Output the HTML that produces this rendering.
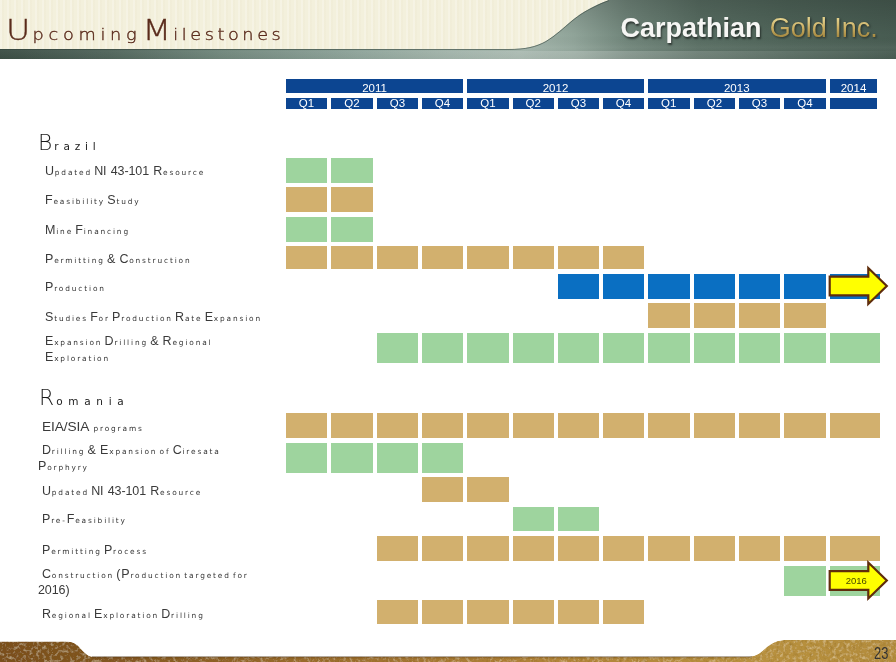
<!DOCTYPE html>
<html lang="en"><head><meta charset="utf-8"><title>Upcoming Milestones</title>
<style>
html,body{margin:0;padding:0;}
body{width:896px;height:662px;position:relative;overflow:hidden;background:#fff;font-family:"Liberation Sans",sans-serif;}
.abs{position:absolute;}
#banner{left:0;top:0;width:896px;height:49px;background:#f3f0dc;background-image:repeating-linear-gradient(90deg,rgba(255,255,255,.22) 0 2px,rgba(225,215,185,.10) 2px 4px,rgba(255,255,255,0) 4px 7px);}
#title{left:6px;top:13px;-webkit-text-stroke:.35px #5a2b1c;transform:scaleX(1.15);transform-origin:0 0;white-space:nowrap;color:#5a2b1c;font-family:"DejaVu Sans","Liberation Sans",sans-serif;font-weight:200;font-size:15.4px;letter-spacing:4.6px;line-height:34px;height:34px;word-spacing:-8.6px;}
#title .w::first-letter{font-size:28.8px;letter-spacing:2px;-webkit-text-stroke:.1px #5a2b1c;}
#title .w{display:inline-block;}
#logo{left:620.4px;top:11.5px;white-space:nowrap;font-size:27px;line-height:32px;color:#f6f6f4;}
#logo b{font-weight:bold;text-shadow:1px 2px 2px rgba(0,0,0,.55);}
#logo i{font-style:normal;margin-left:.7px;color:transparent;background:linear-gradient(#e2cf8a 22%,#c9ad62 50%,#a58840 80%);-webkit-background-clip:text;background-clip:text;filter:drop-shadow(1px 1px 1px rgba(0,0,0,.5));}
.cell{position:absolute;}
.hd{position:absolute;background:#0c4591;color:#fff;font-size:11.5px;text-align:center;}
.yr{top:79px;height:14px;line-height:19px;}
.q{top:98px;height:11px;line-height:10.4px;}
.sec{position:absolute;color:#1a1a1a;font-family:"DejaVu Sans","Liberation Sans",sans-serif;font-size:10.5px;letter-spacing:5px;white-space:nowrap;}
.sec .w{display:inline-block;}
.sec .w::first-letter{font-size:21.8px;font-weight:200;letter-spacing:2px;-webkit-text-stroke:.25px #1a1a1a;}
.lb{position:absolute;color:#333;font-family:"DejaVu Sans","Liberation Sans",sans-serif;font-size:7.4px;letter-spacing:1.85px;white-space:nowrap;line-height:15.7px;word-spacing:-2px;}
.lb .w{display:inline-block;}
.lb .w::first-letter{font-family:"Liberation Sans",sans-serif;font-size:12.5px;letter-spacing:.8px;color:#3a3a3a;}
.lb .c{font-family:"Liberation Sans",sans-serif;font-size:12.5px;letter-spacing:-.1px;margin-right:2px;color:#3a3a3a;}
.lb .c.big{font-size:13.7px;}
.lb .ind{margin-left:-4px;}
#pg{right:7.5px;top:643.5px;font-size:16.5px;color:#333;transform:scaleX(.78);transform-origin:right center;line-height:18px;}
</style></head><body>

<div id="banner" class="abs"></div>
<svg class="abs" style="left:0;top:0" width="896" height="60" viewBox="0 0 896 60">
<defs>
<linearGradient id="gbar" x1="0" y1="0" x2="896" y2="0" gradientUnits="userSpaceOnUse">
<stop offset="0" stop-color="#3d4f46"/><stop offset=".12" stop-color="#50655b"/><stop offset=".25" stop-color="#70877c"/><stop offset=".4" stop-color="#8da399"/><stop offset=".5" stop-color="#a0b3a9"/><stop offset=".58" stop-color="#a3b5ab"/><stop offset=".64" stop-color="#90a499"/><stop offset=".7" stop-color="#70857a"/><stop offset=".78" stop-color="#586d62"/><stop offset=".88" stop-color="#4e6358"/><stop offset="1" stop-color="#475b51"/>
</linearGradient>
<linearGradient id="gv" x1="0" y1="0" x2="0" y2="1">
<stop offset="0" stop-color="#000" stop-opacity=".15"/><stop offset=".6" stop-color="#000" stop-opacity="0"/><stop offset=".8" stop-color="#fff" stop-opacity=".05"/><stop offset="1" stop-color="#000" stop-opacity=".04"/>
</linearGradient>
<linearGradient id="gband" x1="0" y1="0" x2="896" y2="0" gradientUnits="userSpaceOnUse">
<stop offset="0" stop-color="#fff" stop-opacity="0"/><stop offset=".5" stop-color="#fff" stop-opacity="0.05"/><stop offset=".65" stop-color="#fff" stop-opacity=".2"/><stop offset=".8" stop-color="#fff" stop-opacity=".14"/><stop offset="1" stop-color="#fff" stop-opacity="0.02"/>
</linearGradient>
</defs>
<path d="M0 49 L508 49 C526 49 536 46.5 546 41 C556 35 563 28 572 20.5 C580 14 586 10.5 592 7.5 C599 4 604 1.8 609 0 L896 0 L896 59 L0 59 Z" fill="url(#gbar)"/>
<path d="M0 49 L508 49 C526 49 536 46.5 546 41 C556 35 563 28 572 20.5 C580 14 586 10.5 592 7.5 C599 4 604 1.8 609 0 L896 0 L896 59 L0 59 Z" fill="url(#gv)"/>
<rect x="0" y="51" width="896" height="8" fill="url(#gband)"/>
<path d="M0 49.5 L508 49.5 C526 49.5 536 47 546 41.5 C556 35.5 563 28.5 572 21 C580 14.5 586 11 592 8 C599 4.5 604 2.3 609 0.5" stroke="#2f3f38" stroke-width="1" fill="none" opacity=".55"/>
</svg>
<div id="title" class="abs"><span class="w" style="letter-spacing:4.1px">Upcoming</span> <span class="w" style="letter-spacing:3.1px">Milestones</span></div>
<div id="logo" class="abs"><b>Carpathian</b> <i>Gold Inc.</i></div>
<div class="hd yr" style="left:286px;width:177px">2011</div>
<div class="hd yr" style="left:467px;width:177px">2012</div>
<div class="hd yr" style="left:647.5px;width:178.5px">2013</div>
<div class="hd yr" style="left:830px;width:47px">2014</div>
<div class="hd q" style="left:286px;width:41px">Q1</div>
<div class="hd q" style="left:331px;width:42px">Q2</div>
<div class="hd q" style="left:377px;width:41px">Q3</div>
<div class="hd q" style="left:422px;width:41px">Q4</div>
<div class="hd q" style="left:467px;width:42px">Q1</div>
<div class="hd q" style="left:512.6px;width:41.4px">Q2</div>
<div class="hd q" style="left:558px;width:41px">Q3</div>
<div class="hd q" style="left:603px;width:41px">Q4</div>
<div class="hd q" style="left:647.5px;width:42.5px">Q1</div>
<div class="hd q" style="left:694px;width:41px">Q2</div>
<div class="hd q" style="left:739px;width:41px">Q3</div>
<div class="hd q" style="left:784px;width:42px">Q4</div>
<div class="hd q" style="left:830px;width:47px"></div>
<div class="sec" style="left:38px;top:127.5px;line-height:30px;letter-spacing:4.8px"><span class="w">Brazil</span></div>
<div class="cell" style="left:286px;top:158px;width:41px;height:25px;background:#9ed49e"></div>
<div class="cell" style="left:331px;top:158px;width:42px;height:25px;background:#9ed49e"></div>
<div class="lb" style="left:45px;top:163.8px"><span class="w">Updated</span> <span class="c">NI</span> <span class="c">43-101</span> <span class="w">Resource</span></div>
<div class="cell" style="left:286px;top:187px;width:41px;height:25px;background:#d2b06e"></div>
<div class="cell" style="left:331px;top:187px;width:42px;height:25px;background:#d2b06e"></div>
<div class="lb" style="left:45px;top:192.8px"><span class="w">Feasibility</span> <span class="w">Study</span></div>
<div class="cell" style="left:286px;top:217px;width:41px;height:25px;background:#9ed49e"></div>
<div class="cell" style="left:331px;top:217px;width:42px;height:25px;background:#9ed49e"></div>
<div class="lb" style="left:45px;top:222.8px"><span class="w">Mine</span> <span class="w">Financing</span></div>
<div class="cell" style="left:286px;top:246px;width:41px;height:23px;background:#d2b06e"></div>
<div class="cell" style="left:331px;top:246px;width:42px;height:23px;background:#d2b06e"></div>
<div class="cell" style="left:377px;top:246px;width:41px;height:23px;background:#d2b06e"></div>
<div class="cell" style="left:422px;top:246px;width:41px;height:23px;background:#d2b06e"></div>
<div class="cell" style="left:467px;top:246px;width:42px;height:23px;background:#d2b06e"></div>
<div class="cell" style="left:512.6px;top:246px;width:41.4px;height:23px;background:#d2b06e"></div>
<div class="cell" style="left:558px;top:246px;width:41px;height:23px;background:#d2b06e"></div>
<div class="cell" style="left:603px;top:246px;width:41px;height:23px;background:#d2b06e"></div>
<div class="lb" style="left:45px;top:251.8px"><span class="w">Permitting</span> <span class="c">&amp;</span> <span class="w">Construction</span></div>
<div class="cell" style="left:558px;top:274px;width:41px;height:25px;background:#0a6fc2"></div>
<div class="cell" style="left:603px;top:274px;width:41px;height:25px;background:#0a6fc2"></div>
<div class="cell" style="left:647.5px;top:274px;width:42.5px;height:25px;background:#0a6fc2"></div>
<div class="cell" style="left:694px;top:274px;width:41px;height:25px;background:#0a6fc2"></div>
<div class="cell" style="left:739px;top:274px;width:41px;height:25px;background:#0a6fc2"></div>
<div class="cell" style="left:784px;top:274px;width:42px;height:25px;background:#0a6fc2"></div>
<div class="cell" style="left:830px;top:274px;width:50px;height:25px;background:#0a6fc2"></div>
<div class="lb" style="left:45px;top:279.8px"><span class="w">Production</span></div>
<div class="cell" style="left:647.5px;top:303px;width:42.5px;height:25px;background:#d2b06e"></div>
<div class="cell" style="left:694px;top:303px;width:41px;height:25px;background:#d2b06e"></div>
<div class="cell" style="left:739px;top:303px;width:41px;height:25px;background:#d2b06e"></div>
<div class="cell" style="left:784px;top:303px;width:42px;height:25px;background:#d2b06e"></div>
<div class="lb" style="left:45px;top:309.8px"><span class="w">Studies</span> <span class="w">For</span> <span class="w">Production</span> <span class="w">Rate</span> <span class="w">Expansion</span></div>
<div class="cell" style="left:377px;top:333px;width:41px;height:30px;background:#9ed49e"></div>
<div class="cell" style="left:422px;top:333px;width:41px;height:30px;background:#9ed49e"></div>
<div class="cell" style="left:467px;top:333px;width:42px;height:30px;background:#9ed49e"></div>
<div class="cell" style="left:512.6px;top:333px;width:41.4px;height:30px;background:#9ed49e"></div>
<div class="cell" style="left:558px;top:333px;width:41px;height:30px;background:#9ed49e"></div>
<div class="cell" style="left:603px;top:333px;width:41px;height:30px;background:#9ed49e"></div>
<div class="cell" style="left:647.5px;top:333px;width:42.5px;height:30px;background:#9ed49e"></div>
<div class="cell" style="left:694px;top:333px;width:41px;height:30px;background:#9ed49e"></div>
<div class="cell" style="left:739px;top:333px;width:41px;height:30px;background:#9ed49e"></div>
<div class="cell" style="left:784px;top:333px;width:42px;height:30px;background:#9ed49e"></div>
<div class="cell" style="left:830px;top:333px;width:50px;height:30px;background:#9ed49e"></div>
<div class="lb" style="left:45px;top:333.5px"><span class="w">Expansion</span> <span class="w">Drilling</span> <span class="c">&amp;</span> <span class="w">Regional</span><br><span class="w">Exploration</span></div>
<div class="sec" style="left:39px;top:382.5px;line-height:30px;letter-spacing:5.7px"><span class="w">Romania</span></div>
<div class="cell" style="left:286px;top:413px;width:41px;height:25px;background:#d2b06e"></div>
<div class="cell" style="left:331px;top:413px;width:42px;height:25px;background:#d2b06e"></div>
<div class="cell" style="left:377px;top:413px;width:41px;height:25px;background:#d2b06e"></div>
<div class="cell" style="left:422px;top:413px;width:41px;height:25px;background:#d2b06e"></div>
<div class="cell" style="left:467px;top:413px;width:42px;height:25px;background:#d2b06e"></div>
<div class="cell" style="left:512.6px;top:413px;width:41.4px;height:25px;background:#d2b06e"></div>
<div class="cell" style="left:558px;top:413px;width:41px;height:25px;background:#d2b06e"></div>
<div class="cell" style="left:603px;top:413px;width:41px;height:25px;background:#d2b06e"></div>
<div class="cell" style="left:647.5px;top:413px;width:42.5px;height:25px;background:#d2b06e"></div>
<div class="cell" style="left:694px;top:413px;width:41px;height:25px;background:#d2b06e"></div>
<div class="cell" style="left:739px;top:413px;width:41px;height:25px;background:#d2b06e"></div>
<div class="cell" style="left:784px;top:413px;width:42px;height:25px;background:#d2b06e"></div>
<div class="cell" style="left:830px;top:413px;width:50px;height:25px;background:#d2b06e"></div>
<div class="lb" style="left:42px;top:418.8px"><span class="c big">EIA/SIA</span> <span class="l">programs</span></div>
<div class="cell" style="left:286px;top:443px;width:41px;height:30px;background:#9ed49e"></div>
<div class="cell" style="left:331px;top:443px;width:42px;height:30px;background:#9ed49e"></div>
<div class="cell" style="left:377px;top:443px;width:41px;height:30px;background:#9ed49e"></div>
<div class="cell" style="left:422px;top:443px;width:41px;height:30px;background:#9ed49e"></div>
<div class="lb" style="left:42px;top:442.7px"><span class="w">Drilling</span> <span class="c">&amp;</span> <span class="w">Expansion</span> <span class="l">of</span> <span class="w">Ciresata</span><br><span class="ind"></span><span class="w">Porphyry</span></div>
<div class="cell" style="left:422px;top:477px;width:41px;height:25px;background:#d2b06e"></div>
<div class="cell" style="left:467px;top:477px;width:42px;height:25px;background:#d2b06e"></div>
<div class="lb" style="left:42px;top:483.6px"><span class="w">Updated</span> <span class="c">NI</span> <span class="c">43-101</span> <span class="w">Resource</span></div>
<div class="cell" style="left:512.6px;top:507px;width:41.4px;height:24px;background:#9ed49e"></div>
<div class="cell" style="left:558px;top:507px;width:41px;height:24px;background:#9ed49e"></div>
<div class="lb" style="left:42px;top:512.4px"><span class="w">Pre-</span><span class="w">Feasibility</span></div>
<div class="cell" style="left:377px;top:536px;width:41px;height:25px;background:#d2b06e"></div>
<div class="cell" style="left:422px;top:536px;width:41px;height:25px;background:#d2b06e"></div>
<div class="cell" style="left:467px;top:536px;width:42px;height:25px;background:#d2b06e"></div>
<div class="cell" style="left:512.6px;top:536px;width:41.4px;height:25px;background:#d2b06e"></div>
<div class="cell" style="left:558px;top:536px;width:41px;height:25px;background:#d2b06e"></div>
<div class="cell" style="left:603px;top:536px;width:41px;height:25px;background:#d2b06e"></div>
<div class="cell" style="left:647.5px;top:536px;width:42.5px;height:25px;background:#d2b06e"></div>
<div class="cell" style="left:694px;top:536px;width:41px;height:25px;background:#d2b06e"></div>
<div class="cell" style="left:739px;top:536px;width:41px;height:25px;background:#d2b06e"></div>
<div class="cell" style="left:784px;top:536px;width:42px;height:25px;background:#d2b06e"></div>
<div class="cell" style="left:830px;top:536px;width:50px;height:25px;background:#d2b06e"></div>
<div class="lb" style="left:42px;top:542.5px"><span class="w">Permitting</span> <span class="w">Process</span></div>
<div class="cell" style="left:784px;top:566px;width:42px;height:30px;background:#9ed49e"></div>
<div class="cell" style="left:830px;top:566px;width:50px;height:30px;background:#9ed49e"></div>
<div class="lb" style="left:42px;top:566.5px"><span class="w">Construction</span> <span class="w">(Production</span> <span class="l">targeted</span> <span class="l">for</span><br><span class="ind"></span><span class="c">2016)</span></div>
<div class="cell" style="left:377px;top:600px;width:41px;height:24px;background:#d2b06e"></div>
<div class="cell" style="left:422px;top:600px;width:41px;height:24px;background:#d2b06e"></div>
<div class="cell" style="left:467px;top:600px;width:42px;height:24px;background:#d2b06e"></div>
<div class="cell" style="left:512.6px;top:600px;width:41.4px;height:24px;background:#d2b06e"></div>
<div class="cell" style="left:558px;top:600px;width:41px;height:24px;background:#d2b06e"></div>
<div class="cell" style="left:603px;top:600px;width:41px;height:24px;background:#d2b06e"></div>
<div class="lb" style="left:42px;top:607.4px"><span class="w">Regional</span> <span class="w">Exploration</span> <span class="w">Drilling</span></div>
<svg class="abs" style="left:820px;top:261px" width="76" height="50" viewBox="820 261 76 50"><polygon points="829.7,276.7 868.3,276.7 868.3,268.0 886.8,286.0 868.3,304.0 868.3,295.3 829.7,295.3" fill="#ffff00" stroke="#5f2d0c" stroke-width="2.2" stroke-linejoin="miter"/></svg>
<svg class="abs" style="left:820px;top:555px" width="76" height="50" viewBox="820 555 76 50"><polygon points="829.7,571.2 868.3,571.2 868.3,562.5 886.8,580.5 868.3,598.5 868.3,589.8 829.7,589.8" fill="#ffff00" stroke="#5f2d0c" stroke-width="2.2" stroke-linejoin="miter"/><text x="856.3" y="584.0" font-family="Liberation Sans, sans-serif" font-size="9.5" fill="#4a4a00" text-anchor="middle">2016</text></svg>
<svg class="abs" style="left:0;top:636px" width="896" height="26" viewBox="0 636 896 26">
<defs>
<linearGradient id="gf" x1="0" y1="0" x2="896" y2="0" gradientUnits="userSpaceOnUse">
<stop offset="0" stop-color="#7a4f1c"/><stop offset=".1" stop-color="#80541f"/><stop offset=".35" stop-color="#9a6c2c"/><stop offset=".6" stop-color="#b08238"/><stop offset=".85" stop-color="#b8913f"/><stop offset="1" stop-color="#b38c3c"/>
</linearGradient>
<filter id="tx" x="0" y="0" width="100%" height="100%">
<feTurbulence type="fractalNoise" baseFrequency="0.3" numOctaves="3" seed="7" result="n"/>
<feColorMatrix in="n" type="matrix" values="0 0 0 0 1  0 0 0 0 0.88  0 0 0 0 0.55  0 0 0 0.9 -0.45" result="sp"/>
<feColorMatrix in="n" type="matrix" values="0 0 0 0 0.2  0 0 0 0 0.1  0 0 0 0 0  0 0.9 0 0 -0.45" result="dk"/>
<feMerge result="m"><feMergeNode in="SourceGraphic"/><feMergeNode in="sp"/><feMergeNode in="dk"/></feMerge>
<feComposite in="m" in2="SourceGraphic" operator="in"/>
</filter>
<linearGradient id="gfv" x1="0" y1="655" x2="0" y2="662" gradientUnits="userSpaceOnUse">
<stop offset="0" stop-color="#3a2208" stop-opacity=".55"/><stop offset=".6" stop-color="#3a2208" stop-opacity="0"/>
</linearGradient>
</defs>
<path d="M0 641.5 L66 641.5 C76 641.5 78 646 83 651 C87 655 89 656.8 95 656.8 L745 656.8 C756 656.8 760 653 765 648.5 C772 642.5 777 640 788 640 L896 640 L896 662 L0 662 Z" fill="url(#gf)" filter="url(#tx)"/>
<rect x="92" y="656" width="660" height="6" fill="url(#gfv)"/>
</svg>
<div id="pg" class="abs">23</div>
</body></html>
